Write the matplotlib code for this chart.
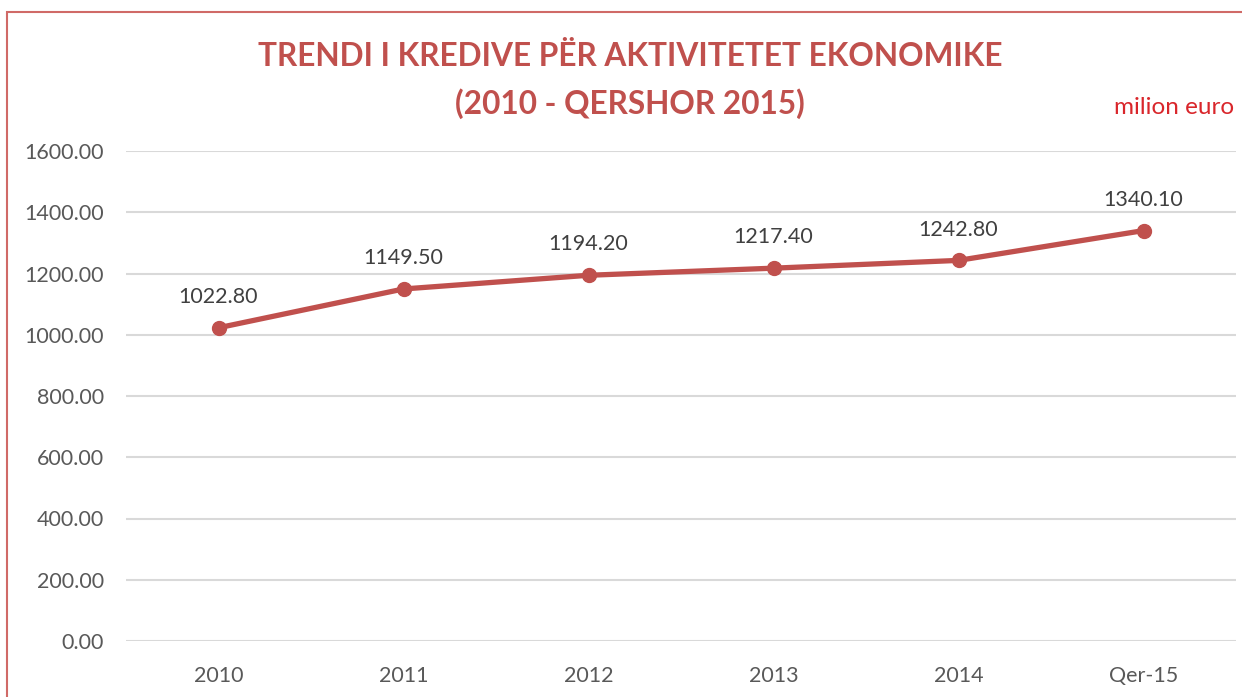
import matplotlib.pyplot as plt
from matplotlib.patches import Rectangle

categories = ['2010', '2011', '2012', '2013', '2014', 'Qer-15']
credits = [1022.80, 1149.50, 1194.20, 1217.40, 1242.80, 1340.10]
yticks = [0, 200, 400, 600, 800, 1000, 1200, 1400, 1600]

red = '#C0504D'
gray_text = '#595959'

plt.rcParams['font.family'] = ['Lato', 'DejaVu Sans']

fig = plt.figure(figsize=(12.42, 6.97), dpi=100)
ax = fig.add_axes([126/1242, 1 - 641/697, 1110/1242, 490/697])

x = range(len(categories))
ax.plot(x, credits, color=red, lw=3.8, marker='o', ms=10, zorder=3)
for i, v in enumerate(credits):
    ax.annotate('%.2f' % v, (i, v), xytext=(0, 15), textcoords='offset points',
                ha='center', va='bottom', fontsize=15.5, color='#404040')

ax.set_xlim(-0.5, len(categories) - 0.5)
ax.set_ylim(0, 1600)
ax.set_yticks(yticks)
ax.set_yticklabels(['%.2f' % t for t in yticks])
ax.set_xticks(list(x))
ax.set_xticklabels(categories)
ax.tick_params(length=0, labelsize=15.5, labelcolor=gray_text)
ax.tick_params(axis='y', pad=16)
ax.tick_params(axis='x', pad=18)
ax.grid(axis='y', color='#D9D9D9', lw=1.5)
ax.set_axisbelow(True)
for s in ax.spines.values():
    s.set_visible(False)

fig.text(630/1242, 1 - 57/697, 'TRENDI I KREDIVE PËR AKTIVITETET EKONOMIKE',
         ha='center', va='center', fontsize=22.8, fontweight='bold', color=red)
fig.text(630/1242, 1 - 104/697, '(2010 - QERSHOR 2015)',
         ha='center', va='center', fontsize=22.8, fontweight='bold', color=red)
fig.text(1234/1242, 1 - 108/697, 'milion euro', ha='right', va='center',
         fontsize=17.5, color='#D9262B')

# chart border (only left and top edges fall inside the picture)
fig.patches.append(Rectangle((7/1242, -0.1), 1.2, 1 - 12/697 + 0.1,
                             transform=fig.transFigure, fill=False,
                             edgecolor='#D06A67', lw=1.5))

fig.savefig('out.png', dpi=100)
